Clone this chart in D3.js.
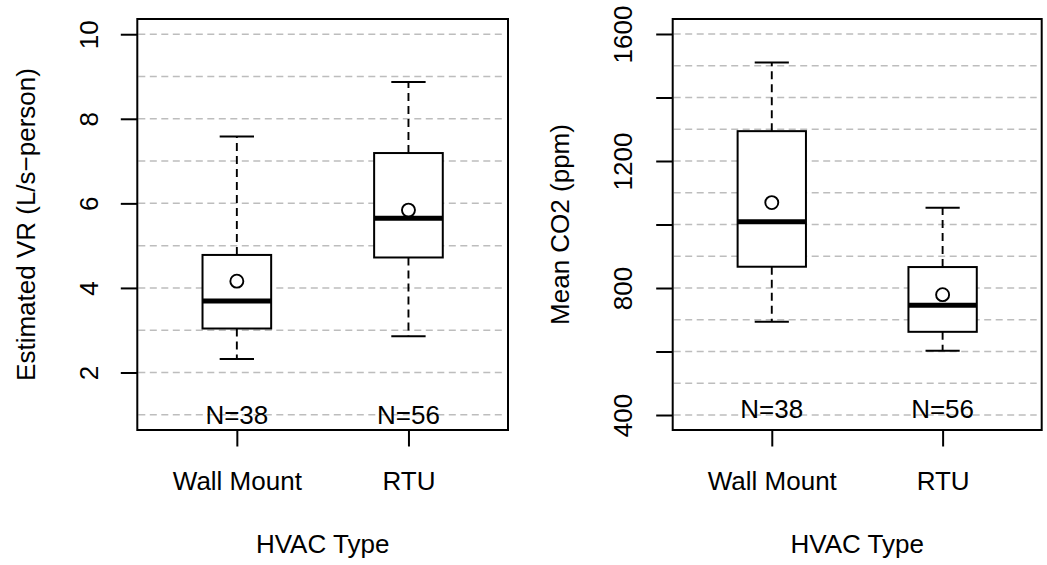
<!DOCTYPE html>
<html>
<head>
<meta charset="utf-8">
<script src="https://cdn.jsdelivr.net/npm/d3@7"></script>
<style>
  html, body { margin: 0; padding: 0; background: #fff; }
  svg { display: block; }
  text { font-family: "Liberation Sans", Arial, Helvetica, sans-serif; fill: #000; }
</style>
</head>
<body>
<svg id="chart" width="1047" height="565"></svg>
<script>
// ---- Data ----
const categories = ["Wall Mount", "RTU"];
const nLabels = ["N=38", "N=56"];

// Estimated VR (L/s-person)
const vrLow  = [2.32, 2.86];
const vrQ1   = [3.04, 4.72];
const vrMed  = [3.69, 5.65];
const vrQ3   = [4.78, 7.19];
const vrHigh = [7.58, 8.87];
const vrMean = [4.16, 5.84];
const vrTicks = [2, 4, 6, 8, 10];
const vrTickLabels = ["2", "4", "6", "8", "10"];
const vrGrid = [1, 2, 3, 4, 5, 6, 7, 8, 9, 10];

// Mean CO2 (ppm)
const co2Low  = [694, 602];
const co2Q1   = [867, 662];
const co2Med  = [1009, 746];
const co2Q3   = [1294, 866];
const co2High = [1510, 1053];
const co2Mean = [1069, 779];
const co2Ticks = [400, 600, 800, 1000, 1200, 1400, 1600];
const co2TickLabels = ["400", "", "800", "", "1200", "", "1600"];
const co2Grid = [400, 500, 600, 700, 800, 900, 1000, 1100, 1200, 1300, 1400, 1500, 1600];

const svg = d3.select("#chart");
const FS = 26;

function panel(opt) {
  const g = svg.append("g");
  const x = d3.scaleLinear().domain([0.42, 2.58]).range([opt.left, opt.right]);
  const y = d3.scaleLinear().domain(opt.ydomain).range([opt.bottom, opt.top]);

  // grid lines
  g.selectAll("line.grid").data(opt.grid).join("line")
    .attr("x1", opt.left + 1).attr("x2", opt.right - 5)
    .attr("y1", d => y(d)).attr("y2", d => y(d))
    .attr("stroke", "#bdbdbd").attr("stroke-width", 1.5)
    .attr("stroke-dasharray", "7,4.5");

  const stats = categories.map((c, i) => ({
    c, i, pos: i + 1,
    low: opt.low[i], q1: opt.q1[i], med: opt.med[i], q3: opt.q3[i],
    high: opt.high[i], mean: opt.mean[i], n: nLabels[i]
  }));

  const bw = 0.2, cw = 0.1;
  const bx = g.selectAll("g.box").data(stats).join("g");
  // whiskers
  bx.append("line")
    .attr("x1", d => x(d.pos)).attr("x2", d => x(d.pos))
    .attr("y1", d => y(d.q3)).attr("y2", d => y(d.high))
    .attr("stroke", "#000").attr("stroke-width", 1.9).attr("stroke-dasharray", "8,5");
  bx.append("line")
    .attr("x1", d => x(d.pos)).attr("x2", d => x(d.pos))
    .attr("y1", d => y(d.q1)).attr("y2", d => y(d.low))
    .attr("stroke", "#000").attr("stroke-width", 1.9).attr("stroke-dasharray", "8,5");
  // caps
  bx.append("line")
    .attr("x1", d => x(d.pos - cw)).attr("x2", d => x(d.pos + cw))
    .attr("y1", d => y(d.high)).attr("y2", d => y(d.high))
    .attr("stroke", "#000").attr("stroke-width", 2);
  bx.append("line")
    .attr("x1", d => x(d.pos - cw)).attr("x2", d => x(d.pos + cw))
    .attr("y1", d => y(d.low)).attr("y2", d => y(d.low))
    .attr("stroke", "#000").attr("stroke-width", 2);
  // box
  bx.append("rect")
    .attr("x", d => x(d.pos - bw)).attr("width", d => x(d.pos + bw) - x(d.pos - bw))
    .attr("y", d => y(d.q3)).attr("height", d => y(d.q1) - y(d.q3))
    .attr("fill", "#fff").attr("stroke", "#000").attr("stroke-width", 2);
  // median
  bx.append("line")
    .attr("x1", d => x(d.pos - bw)).attr("x2", d => x(d.pos + bw))
    .attr("y1", d => y(d.med)).attr("y2", d => y(d.med))
    .attr("stroke", "#000").attr("stroke-width", 5);
  // mean
  bx.append("circle")
    .attr("cx", d => x(d.pos)).attr("cy", d => y(d.mean)).attr("r", 6.5)
    .attr("fill", "none").attr("stroke", "#000").attr("stroke-width", 1.9);
  // N labels
  bx.append("text")
    .attr("x", d => x(d.pos)).attr("y", y(opt.nAt) + 9.3)
    .attr("text-anchor", "middle").attr("font-size", FS)
    .text(d => d.n);

  // frame
  g.append("rect")
    .attr("x", opt.left).attr("y", opt.top)
    .attr("width", opt.right - opt.left).attr("height", opt.bottom - opt.top)
    .attr("fill", "none").attr("stroke", "#000").attr("stroke-width", 2);

  // y axis
  const yAxis = d3.axisLeft(y).tickValues(opt.ticks)
    .tickFormat((d, i) => opt.tickLabels[i]).tickSize(16.5).tickPadding(0);
  const ya = g.append("g").attr("transform", `translate(${opt.left},0)`).call(yAxis);
  ya.select(".domain").remove();
  ya.selectAll(".tick line").attr("stroke", "#000").attr("stroke-width", 2);
  ya.selectAll(".tick text")
    .attr("font-size", FS).attr("font-family", null)
    .attr("text-anchor", "middle").attr("dy", null).attr("x", null)
    .attr("transform", `translate(${-(opt.left - opt.tickBase)},0) rotate(-90)`);

  // x axis
  const xAxis = d3.axisBottom(x).tickValues([1, 2])
    .tickFormat((d, i) => categories[i]).tickSize(16.5).tickPadding(0);
  const xa = g.append("g").attr("transform", `translate(0,${opt.bottom})`).call(xAxis);
  xa.select(".domain").remove();
  xa.selectAll(".tick line").attr("stroke", "#000").attr("stroke-width", 2);
  xa.selectAll(".tick text")
    .attr("font-size", FS).attr("font-family", null)
    .attr("dy", null).attr("y", 490 - opt.bottom);

  // axis titles
  g.append("text")
    .attr("x", (opt.left + opt.right) / 2).attr("y", 553)
    .attr("text-anchor", "middle").attr("font-size", FS)
    .text("HVAC Type");
  g.append("text")
    .attr("transform", `translate(${opt.titleBase},${(opt.top + opt.bottom) / 2}) rotate(-90)`)
    .attr("text-anchor", "middle").attr("font-size", FS)
    .text(opt.ylabel);
}

panel({
  left: 137.3, right: 508, top: 19, bottom: 430,
  ydomain: [0.64, 10.36],
  low: vrLow, q1: vrQ1, med: vrMed, q3: vrQ3, high: vrHigh, mean: vrMean,
  ticks: vrTicks, tickLabels: vrTickLabels, grid: vrGrid,
  nAt: 1, tickBase: 97.5, titleBase: 35,
  ylabel: "Estimated VR (L/s\u2212person)"
});

panel({
  left: 672.7, right: 1041.7, top: 19, bottom: 430,
  ydomain: [352.8, 1647.2],
  low: co2Low, q1: co2Q1, med: co2Med, q3: co2Q3, high: co2High, mean: co2Mean,
  ticks: co2Ticks, tickLabels: co2TickLabels, grid: co2Grid,
  nAt: 420, tickBase: 632, titleBase: 569,
  ylabel: "Mean CO2 (ppm)"
});
</script>
</body>
</html>
